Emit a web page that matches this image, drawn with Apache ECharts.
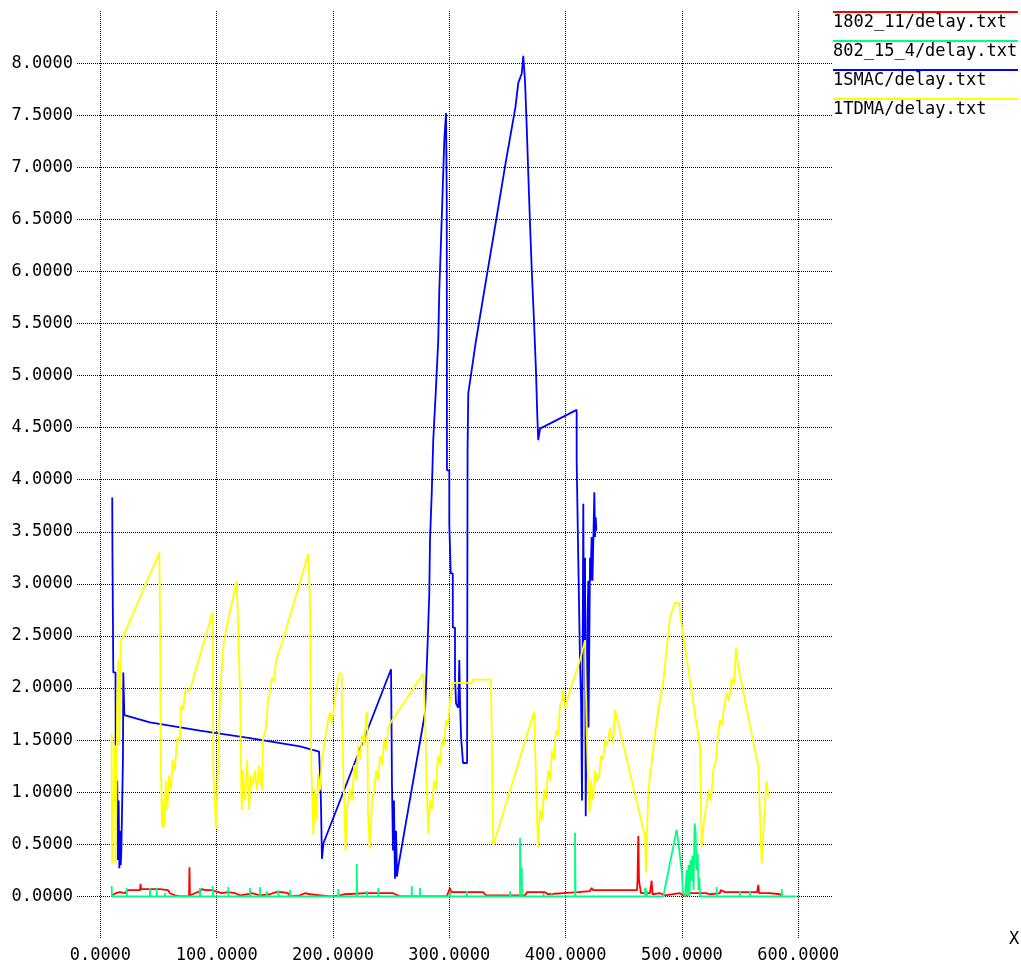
<!DOCTYPE html>
<html>
<head>
<meta charset="utf-8">
<title>delay</title>
<script src="https://cdn.jsdelivr.net/npm/echarts@6/dist/echarts.min.js"></script>
<style>
  html, body { margin: 0; padding: 0; background: #fff; }
  #chart { width: 1021px; height: 968px; }
</style>
</head>
<body>
<div id="chart"></div>
<script>
// names / colours in legend order
const seriesNames = ['1802_11/delay.txt', '802_15_4/delay.txt', '1SMAC/delay.txt', '1TDMA/delay.txt']
const seriesColors = ['#ff0000', '#00ff7f', '#0000ff', '#ffff00']

// tick values
const xTicks = [0, 100, 200, 300, 400, 500, 600]
const yTicks = [0, 0.5, 1, 1.5, 2, 2.5, 3, 3.5, 4, 4.5, 5, 5.5, 6, 6.5, 7, 7.5, 8]

// [x, delay] pairs
const delay80211 = [
  [10.0,0.01],[13.4,0.03],[16.9,0.04],[21.2,0.03],[23.7,0.06],[27.2,0.06],[34.1,0.06],[34.5,0.12],[34.9,0.07],
  [42.6,0.07],[51.2,0.07],[58.1,0.06],[59.8,0.03],[64.1,0.01],[68.4,0],[76.2,0],[76.6,0.28],[77.0,0.01],
  [81.3,0.03],[85.6,0.05],[87.4,0.07],[89.9,0.06],[95.9,0.06],[98.5,0.05],[104.6,0.03],[109.7,0.04],[115.7,0.03],
  [120.0,0.01],[126.9,0.02],[130.4,0.03],[137.2,0.01],[145.8,0.02],[151.0,0.04],[156.2,0.04],[161.3,0.03],
  [163.0,0],[171.6,0.01],[175.9,0.03],[180.2,0.02],[197.4,0],[206.0,0.01],[210.3,0.02],[228.4,0.03],[249.0,0.03],
  [250.5,0.04],[251.6,0.03],[257.6,0],[266.2,0],[298.0,0],[298.8,0.03],[300.6,0.08],[301.5,0.04],[329.0,0.04],
  [331.6,0.01],[352.2,0.01],[365.1,0.01],[366.8,0.04],[382.2,0.04],[384.9,0.02],[397.8,0.03],[410.7,0.04],
  [421.0,0.05],[422.4,0.08],[423.6,0.06],[446.8,0.06],[461.4,0.06],[461.8,0.15],[462.5,0.58],[463.1,0.15],
  [464.0,0.15],[464.8,0.03],[472.5,0.03],[474.0,0.15],[474.7,0.02],[481.2,0.03],[485.5,0.01],[498.3,0.03],
  [502.7,0],[507.0,0.03],[520.7,0.03],[524.2,0.02],[532.8,0.03],[533.2,0.06],[537.1,0.04],[564.6,0.04],
  [565.7,0.11],[566.3,0.03],[575.7,0.03],[584.3,0.02],[586.0,0]
]

const delay802154 = [
  [9.7,0.10],[9.9,0],[22.6,0],[22.6,0.08],[22.9,0],[42.6,0],[42.6,0.08],[42.9,0],[48.4,0],[48.4,0.08],[48.7,0],
  [55.5,0],[55.5,0.03],[55.8,0],[85.6,0],[85.6,0.08],[85.9,0],[96.6,0],[96.6,0.10],[96.9,0],[110.0,0],[110.0,0.09],
  [110.3,0],[128.6,0],[128.6,0.08],[128.9,0],[137.2,0],[137.2,0.09],[137.5,0],[143.0,0],[143.0,0.05],[143.3,0],
  [153.0,0],[153.0,0.06],[153.3,0],[163.0,0],[163.0,0.06],[163.3,0],[204.6,0],[204.6,0.07],[204.9,0],
  [220.4,0],[220.4,0.31],[220.8,0],[229.0,0],[229.0,0.05],[229.3,0],[239.0,0],[239.0,0.08],[239.3,0],
  [267.7,0],[267.7,0.10],[268.0,0],[274.8,0],[274.8,0.08],[275.1,0],[300.6,0],[300.6,0.05],[300.9,0],
  [315.0,0],[315.0,0.05],[315.3,0],[352.2,0],[352.2,0.05],[352.5,0],[360.8,0],[360.8,0.56],[361.2,0.10],
  [362.3,0.28],[362.6,0],[380.8,0],[380.8,0.03],[381.1,0],[388.0,0],[388.0,0.03],[388.3,0],[408.1,0],
  [408.1,0.61],[408.5,0],[468.3,0],[468.3,0.08],[469.7,0.05],[470.0,0],[484.0,0],[495.5,0.64],[496.7,0.54],
  [499.8,0.25],[500.9,0.03],[502.7,0],[504.1,0.25],[504.8,0],[505.7,0.30],[506.5,0],[507.4,0.35],[508.3,0.15],
  [509.1,0.39],[510.0,0.06],[510.9,0.70],[511.7,0.63],[512.6,0.25],[513.6,0.41],[514.3,0.06],[515.0,0.18],
  [515.6,0],[529.9,0],[529.9,0.09],[530.2,0],[549.9,0],[549.9,0.05],[550.2,0],[558.5,0],[558.5,0.05],[558.8,0],
  [585.8,0],[585.8,0.07],[586.1,0],[598.7,0]
]

const delaySmac = [
  [10.2,3.83],[10.4,3.26],[11.1,2.15],[13.0,2.15],[13.2,1.26],[13.8,0.73],[14.5,1.11],[15.1,0.35],[15.7,0.92],
  [16.3,0.27],[16.9,0.63],[17.5,0.30],[18.0,0.44],[18.6,0.80],[19.4,1.31],[19.7,2.15],[20.3,2.15],[20.6,1.74],
  [42.6,1.67],[85.6,1.59],[128.6,1.52],[171.6,1.44],[188.0,1.39],[188.8,1.18],[189.6,0.92],[190.5,0.36],
  [191.8,0.51],[249.9,2.18],[250.3,1.67],[250.7,1.08],[251.6,0.44],[252.4,0.92],[253.3,0.17],[254.2,0.63],
  [255.0,0.19],[255.9,0.27],[279.1,1.76],[280.6,1.76],[281.4,2.44],[282.8,2.91],[283.4,3.42],[284.9,3.87],
  [286.2,4.38],[288.3,4.83],[290.5,5.34],[291.4,5.82],[292.9,6.30],[294.3,6.78],[295.7,7.26],[297.2,7.52],
  [297.8,6.68],[298.0,4.09],[300.0,4.09],[300.0,3.58],[301.2,3.58],[301.2,3.10],[303.0,3.10],[303.0,2.58],
  [304.9,2.58],[304.9,2.10],[305.8,2.10],[305.8,1.85],[307.7,1.81],[308.6,2.27],[309.2,1.88],[310.1,1.53],
  [311.8,1.53],[311.8,1.28],[315.3,1.28],[315.7,4.28],[316.3,4.83],[322.6,5.31],[331.2,5.89],[339.8,6.46],
  [348.4,7.04],[356.9,7.58],[359.3,7.81],[362.3,7.90],[363.6,8.07],[364.5,8.07],[365.1,7.83],[366.6,7.38],
  [367.9,6.94],[369.4,6.46],[370.9,6.01],[372.8,5.53],[374.5,5.05],[375.7,4.60],[376.5,4.38],[378.0,4.49],
  [409.5,4.67],[409.5,4.19],[410.9,4.19],[410.9,3.23],[412.4,3.23],[412.4,2.24],[413.3,1.88],[414.1,0.92],
  [415.2,3.77],[415.8,2.36],[416.7,3.25],[417.3,0.77],[418.0,1.88],[418.8,2.65],[419.5,3.03],[419.7,1.62],
  [420.4,2.46],[421.0,3.25],[421.4,3.03],[422.4,3.45],[423.1,3.03],[424.7,3.88],[425.3,3.45],[425.9,3.64],
  [426.4,3.51]
]

const delayTdma = [
  [9.7,1.56],[10.0,0.32],[12.6,1.45],[13.2,0.32],[14.5,1.88],[15.4,2.27],[16.3,1.45],[17.5,2.44],[34.1,2.87],
  [50.7,3.30],[51.3,2.63],[51.9,1.33],[53.0,0.66],[54.1,0.92],[54.7,0.66],[56.4,1.11],[57.5,0.83],[59.0,1.16],
  [60.7,1.02],[62.2,1.31],[64.1,1.21],[65.9,1.52],[68.4,1.50],[69.3,1.83],[71.3,1.79],[72.7,1.96],[77.0,1.98],
  [96.6,2.73],[97.1,1.18],[98.5,0.92],[99.4,0.65],[101.4,1.31],[102.8,1.88],[104.6,2.22],[106.3,2.46],
  [111.4,2.73],[117.2,3.03],[118.1,2.75],[120.0,1.98],[121.5,0.83],[122.6,1.21],[124.3,0.92],[126.1,1.31],
  [127.8,0.83],[129.5,1.16],[131.2,1.07],[132.9,1.21],[134.6,1.02],[136.4,1.26],[139.0,1.02],[139.8,1.50],
  [142.4,1.62],[144.1,1.88],[145.9,1.98],[147.6,2.10],[149.3,2.07],[151.0,2.25],[153.6,2.36],[156.1,2.43],
  [178.8,3.29],[180.2,2.84],[180.8,2.07],[181.4,1.24],[183.1,0.59],[184.5,1.02],[186.0,0.73],[187.1,1.18],
  [188.8,1.02],[190.5,1.31],[193.1,1.50],[195.7,1.69],[197.4,1.76],[199.1,1.66],[202.6,1.98],[205.6,2.14],
  [207.5,2.14],[207.7,1.72],[209.5,0.92],[210.9,0.44],[212.1,0.85],[214.7,1.02],[216.4,0.92],[218.2,1.26],
  [219.9,1.11],[221.6,1.45],[223.3,1.31],[225.0,1.55],[226.8,1.45],[228.5,1.74],[229.5,1.77],[230.1,0.80],
  [231.7,0.46],[233.6,0.92],[235.4,1.02],[237.1,1.21],[238.8,1.11],[240.5,1.35],[242.2,1.26],[243.9,1.50],
  [245.6,1.40],[247.4,1.61],[249.1,1.66],[277.6,2.14],[279.1,1.76],[280.4,1.11],[281.9,0.60],[283.4,0.92],
  [285.1,0.83],[286.8,1.11],[288.5,1.02],[290.3,1.35],[292.0,1.26],[293.7,1.50],[295.4,1.45],[297.1,1.69],
  [298.9,1.64],[300.6,1.88],[302.3,1.98],[303.5,2.05],[319.5,2.05],[320.4,2.08],[335.9,2.08],[336.3,1.69],
  [337.8,0.49],[372.8,1.77],[373.7,1.47],[375.0,0.92],[376.3,0.47],[378.0,0.83],[379.7,0.73],[381.4,1.02],
  [383.1,0.92],[384.9,1.21],[386.6,1.11],[388.3,1.40],[390.0,1.31],[391.7,1.59],[393.4,1.55],[395.2,1.83],
  [396.9,1.88],[397.7,1.98],[399.5,1.81],[403.8,1.98],[408.1,2.12],[412.4,2.27],[416.7,2.46],[418.1,1.59],
  [419.5,1.02],[420.6,0.80],[421.8,1.11],[423.5,0.92],[425.3,1.21],[427.0,1.11],[428.7,1.14],[430.4,1.35],
  [432.2,1.31],[433.9,1.50],[435.6,1.45],[438.2,1.62],[440.8,1.47],[442.5,1.79],[468.3,0.57],[469.1,0.23],
  [471.1,1.02],[474.3,1.31],[478.3,1.69],[484.0,2.07],[489.8,2.68],[494.1,2.82],[497.5,2.82],[499.8,2.60],
  [515.6,1.43],[517.0,0.47],[519.0,0.73],[521.3,0.89],[523.3,1.02],[525.0,0.92],[527.0,1.21],[529.3,1.31],
  [531.0,1.55],[532.8,1.69],[534.5,1.64],[536.2,1.83],[538.5,1.95],[540.5,1.88],[542.8,2.09],[544.8,2.03],
  [546.5,2.39],[548.5,2.20],[565.7,1.24],[567.2,0.76],[568.6,0.32],[571.5,0.92],[572.9,1.11],[574.3,0.95]
]

const seriesData = [delay80211, delay802154, delaySmac, delayTdma]

const chart = echarts.init(document.getElementById('chart'))
const monoFont = '"DejaVu Sans Mono", "Liberation Mono", monospace'

// dotted grid, labels only at the given ticks
const gridDots = { show: true, lineStyle: { color: '#000', width: 1, type: [1, 1] } }

// xgraph style legend: coloured line above each name
const legendItems = []
seriesNames.forEach((name, i) => {
  legendItems.push({
    type: 'line',
    shape: { x1: 833, y1: 12 + 29 * i, x2: 1018, y2: 12 + 29 * i },
    style: { stroke: seriesColors[i], lineWidth: 2 }
  })
  legendItems.push({
    type: 'text',
    style: { x: 833, y: 23 + 29 * i, text: name, font: '17px ' + monoFont, fill: '#000', verticalAlign: 'middle' }
  })
})
legendItems.push({
  type: 'text',
  style: { x: 1014, y: 940, text: 'X', font: '17px ' + monoFont, fill: '#000', align: 'center', verticalAlign: 'middle' }
})

const option = {
  backgroundColor: '#fff',
  animation: false,
  grid: { left: 77, right: 188, top: 11, bottom: 30, containLabel: false, outerBoundsMode: 'none' },
  xAxis: {
    type: 'value',
    min: -20.1,
    max: 629.9,
    axisLine: { show: false },
    axisTick: { show: false, customValues: xTicks },
    axisLabel: {
      customValues: xTicks,
      formatter: v => v.toFixed(4),
      fontFamily: monoFont, fontSize: 17, color: '#000', margin: 9
    },
    splitLine: gridDots
  },
  yAxis: {
    type: 'value',
    min: -0.4,
    max: 8.5,
    axisLine: { show: false },
    axisTick: { show: false, customValues: yTicks },
    axisLabel: {
      customValues: yTicks,
      formatter: v => v.toFixed(4),
      fontFamily: monoFont, fontSize: 17, color: '#000', margin: 4
    },
    splitLine: gridDots
  },
  graphic: legendItems,
  series: seriesNames.map((name, i) => ({
    name: name,
    type: 'line',
    data: seriesData[i],
    showSymbol: false,
    symbol: 'none',
    z: 2 + i,
    lineStyle: { color: seriesColors[i], width: 1.8 },
    itemStyle: { color: seriesColors[i] }
  }))
}
chart.setOption(option)
</script>
</body>
</html>
